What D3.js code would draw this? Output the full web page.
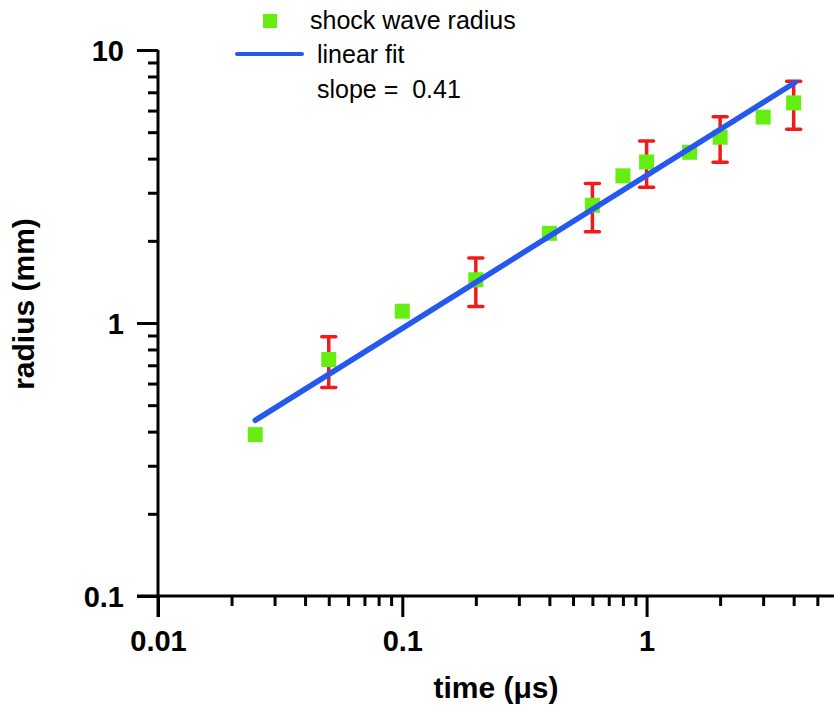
<!DOCTYPE html>
<html>
<head>
<meta charset="utf-8">
<script src="https://cdn.jsdelivr.net/npm/d3@7"></script>
<style>
  body { margin: 0; background: #fff; }
  svg text { font-family: "Liberation Sans", Arial, sans-serif; }
</style>
</head>
<body>
<svg id="chart" width="834" height="708"></svg>
<script>
// shock wave radius measurements (time in µs, radius in mm)
const times = [0.025, 0.05, 0.1, 0.2, 0.4, 0.6, 0.8, 1, 1.5, 2, 3, 4]
const radii = [0.39, 0.735, 1.105, 1.44, 2.13, 2.7, 3.46, 3.89, 4.22, 4.79, 5.68, 6.4]

// error bars (only on some points)
const errTimes = [0.05, 0.2, 0.6, 1, 2, 4]
const errRadii = [0.735, 1.44, 2.7, 3.89, 4.79, 6.4]
const errSize = [0.155, 0.29, 0.54, 0.75, 0.91, 1.28]

// linear fit line endpoints
const fitTimes = [0.025, 4.05]
const fitRadii = [0.44, 7.6]

const xTickLabels = ["0.01", "0.1", "1"]
const yTickLabels = ["0.1", "1", "10"]

const svg = d3.select("#chart")
const margin = { top: 50, right: 0, bottom: 112, left: 158 }
const width = 834 - margin.left - margin.right
const height = 708 - margin.top - margin.bottom

const x = d3.scaleLog().domain([0.01, 5.85]).range([margin.left, margin.left + width])
const y = d3.scaleLog().domain([0.1, 10]).range([margin.top + height, margin.top])

// minor tick values: 2..9 in every decade
const xMinor = []
;[0.01, 0.1, 1].forEach((d) => {
  for (let k = 2; k <= 9; k++) if (d * k <= 5.85) xMinor.push(d * k)
})
const yMinor = []
;[0.1, 1].forEach((d) => {
  for (let k = 2; k <= 9; k++) yMinor.push(d * k)
})

// x axis
const xAxis = svg.append("g").attr("transform", `translate(0,${margin.top + height})`)
xAxis.call(
  d3.axisBottom(x).tickValues(xTickLabels.map(Number)).tickSize(21).tickSizeOuter(0)
    .tickFormat((d, i) => xTickLabels[i])
)
xAxis.append("g").call(
  d3.axisBottom(x).tickValues(xMinor).tickSize(10).tickFormat("")
).select(".domain").remove()
xAxis.select(".domain").attr("d", `M${margin.left - 21},0H834`)

// y axis
const yAxis = svg.append("g").attr("transform", `translate(${margin.left},0)`)
yAxis.call(
  d3.axisLeft(y).tickValues(yTickLabels.map(Number)).tickSize(21).tickSizeOuter(0)
    .tickFormat((d, i) => yTickLabels[i])
)
yAxis.append("g").call(
  d3.axisLeft(y).tickValues(yMinor).tickSize(10).tickFormat("")
).select(".domain").remove()
yAxis.select(".domain").attr("d", `M0,${margin.top}V${margin.top + height + 21}`)

svg.selectAll(".domain, .tick line")
  .attr("stroke", "#000")
  .attr("stroke-width", 3)

xAxis.selectAll(".tick text")
  .attr("y", 34)
  .attr("dy", "0.71em")
  .style("font-size", "29px")
  .style("font-weight", "bold")
  .attr("fill", "#000")

yAxis.selectAll(".tick text")
  .attr("x", -34)
  .attr("dy", "0.36em")
  .style("font-size", "29px")
  .style("font-weight", "bold")
  .attr("fill", "#000")

// axis titles
svg.append("text")
  .attr("x", 496)
  .attr("y", 698)
  .attr("text-anchor", "middle")
  .style("font-size", "30px")
  .style("font-weight", "bold")
  .text("time (\u03bcs)")

svg.append("text")
  .attr("transform", "translate(34,304) rotate(-90)")
  .attr("text-anchor", "middle")
  .style("font-size", "30px")
  .style("font-weight", "bold")
  .text("radius (mm)")

// error bars
const errData = errTimes.map((t, i) => ({ t: t, r: errRadii[i], e: errSize[i] }))
const err = svg.append("g").attr("stroke", "#f01c1c").attr("stroke-width", 3.5)
err.selectAll(".ev")
  .data(errData)
  .join("line")
  .attr("x1", (d) => x(d.t))
  .attr("x2", (d) => x(d.t))
  .attr("y1", (d) => y(d.r + d.e))
  .attr("y2", (d) => y(d.r - d.e))
err.selectAll(".cap-top")
  .data(errData)
  .join("line")
  .attr("class", "cap-top")
  .attr("x1", (d) => x(d.t) - 7)
  .attr("x2", (d) => x(d.t) + 7)
  .attr("y1", (d) => y(d.r + d.e))
  .attr("y2", (d) => y(d.r + d.e))
  .attr("stroke-linecap", "round")
err.selectAll(".cap-bot")
  .data(errData)
  .join("line")
  .attr("class", "cap-bot")
  .attr("x1", (d) => x(d.t) - 7)
  .attr("x2", (d) => x(d.t) + 7)
  .attr("y1", (d) => y(d.r - d.e))
  .attr("y2", (d) => y(d.r - d.e))
  .attr("stroke-linecap", "round")

// data squares
const sq = 15
svg.append("g")
  .selectAll("rect")
  .data(times)
  .join("rect")
  .attr("x", (d) => x(d) - sq / 2)
  .attr("y", (d, i) => y(radii[i]) - sq / 2)
  .attr("width", sq)
  .attr("height", sq)
  .attr("fill", "#66ee11")

// fit line
const line = d3.line().x((d) => x(d[0])).y((d) => y(d[1]))
svg.append("path")
  .datum(fitTimes.map((t, i) => [t, fitRadii[i]]))
  .attr("d", line)
  .attr("fill", "none")
  .attr("stroke", "#2458ee")
  .attr("stroke-width", 5.5)
  .attr("stroke-linecap", "round")

// legend
const legend = svg.append("g")
legend.append("rect")
  .attr("x", 263).attr("y", 14).attr("width", 14).attr("height", 14)
  .attr("fill", "#66ee11")
legend.append("line")
  .attr("x1", 237).attr("x2", 302).attr("y1", 54).attr("y2", 54)
  .attr("stroke", "#2458ee").attr("stroke-width", 4).attr("stroke-linecap", "round")
legend.append("text").attr("x", 310).attr("y", 29)
  .style("font-size", "25px").text("shock wave radius")
legend.append("text").attr("x", 317).attr("y", 63)
  .style("font-size", "25px").text("linear fit")
legend.append("text").attr("x", 317).attr("y", 98)
  .style("font-size", "25px").attr("xml:space", "preserve").text("slope =  0.41")
</script>
</body>
</html>
